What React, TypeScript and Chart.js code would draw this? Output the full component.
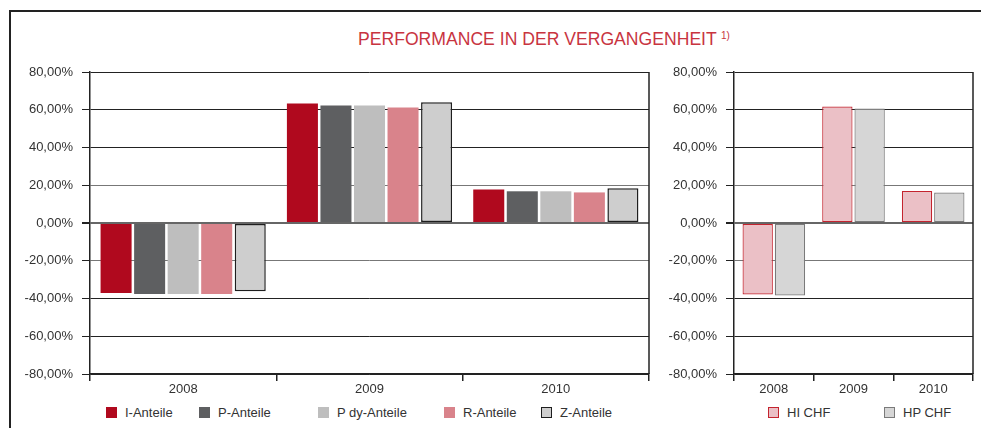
import React, { useEffect, useRef } from 'react';
import { Chart, registerables } from 'chart.js';

Chart.register(...registerables);

// ---- data ----
const years = ['2008', '2009', '2010'];
const iAnteile = [-37.1, 63.3, 17.8];
const pAnteile = [-37.6, 62.3, 16.8];
const pdyAnteile = [-37.6, 62.3, 16.8];
const rAnteile = [-37.6, 61.2, 16.2];
const zAnteile = [-36.2, 64.0, 18.4];
const hiChf = [-37.9, 61.7, 16.9];
const hpChf = [-38.4, 60.7, 16.1];
const leftNames = ['I-Anteile', 'P-Anteile', 'P dy-Anteile', 'R-Anteile', 'Z-Anteile'];
const rightNames = ['HI CHF', 'HP CHF'];
const yMin = -80;
const yMax = 80;
const yStep = 20;
const titleText = 'PERFORMANCE IN DER VERGANGENHEIT';
const footnoteMark = '1)';

// ---- styles ----
const FONT = "'Liberation Sans', Arial, sans-serif";
const leftStyles = [
  { bg: '#b0091e', border: '#b0091e', bw: 0 },
  { bg: '#5e5f61', border: '#5e5f61', bw: 0 },
  { bg: '#bebebe', border: '#bebebe', bw: 0 },
  { bg: '#d9838b', border: '#d9838b', bw: 0 },
  { bg: '#cecece', border: '#1e1e1e', bw: 1.5 },
];
const rightStyles = [
  { bg: '#ebc0c6', border: '#c4242f', bw: 1.2 },
  { bg: '#d6d6d6', border: '#7a7a7a', bw: 1.2 },
];
const leftLegendX = [106, 199, 318, 444, 541];
const rightLegendX = [768, 884];

const fmt = (v: number) => v.toFixed(2).replace('.', ',') + '%';

const rightBorderPlugin = {
  id: 'rightBorder',
  afterDraw(chart: any) {
    const { ctx, chartArea } = chart;
    ctx.save();
    ctx.strokeStyle = '#222';
    ctx.lineWidth = 1.5;
    ctx.beginPath();
    ctx.moveTo(chartArea.right, chartArea.top);
    ctx.lineTo(chartArea.right, chartArea.bottom);
    ctx.stroke();
    ctx.restore();
  },
};

function makeConfig(
  series: number[][],
  names: string[],
  styles: { bg: string; border: string; bw: number }[],
  axisWidth: number,
  rightPad: number,
  catPct: number,
  barPct: number
): any {
  return {
    type: 'bar',
    data: {
      labels: years,
      datasets: series.map((d, i) => ({
        label: names[i],
        data: d,
        backgroundColor: styles[i].bg,
        borderColor: styles[i].border,
        borderWidth: styles[i].bw,
        borderSkipped: false,
        categoryPercentage: catPct,
        barPercentage: barPct,
      })),
    },
    options: {
      responsive: false,
      animation: false,
      devicePixelRatio: 1,
      layout: { padding: { top: 72, left: 0, right: rightPad, bottom: 0 } },
      plugins: { legend: { display: false }, title: { display: false }, tooltip: { enabled: false } },
      scales: {
        x: {
          afterFit: (s: any) => {
            s.height = 26;
          },
          grid: {
            offset: true,
            drawOnChartArea: false,
            drawTicks: true,
            tickLength: 7,
            color: '#222',
            tickColor: '#222',
            lineWidth: 1.5,
          },
          border: { color: '#222', width: 1.5 },
          ticks: { color: '#333', font: { family: FONT, size: 13 }, padding: 1 },
        },
        y: {
          min: yMin,
          max: yMax,
          afterFit: (s: any) => {
            s.width = axisWidth;
          },
          ticks: {
            stepSize: yStep,
            color: '#333',
            font: { family: FONT, size: 13 },
            padding: 9,
            callback: (v: any) => fmt(Number(v)),
          },
          grid: {
            drawTicks: true,
            tickLength: 8,
            tickColor: '#222',
            color: (c: any) => {
              const v = c.tick ? c.tick.value : 1;
              if (v === 0) return '#666';
              if (Math.abs(v) === 20) return '#777';
              return '#222';
            },
            lineWidth: (c: any) => (c.tick && c.tick.value === 0 ? 2 : 1),
          },
          border: { color: '#222', width: 1.5 },
        },
      },
    },
    plugins: [rightBorderPlugin],
  };
}

function Legend({ names, styles, xs }: { names: string[]; styles: any[]; xs: number[] }) {
  return (
    <>
      {names.map((n, i) => (
        <div
          key={n}
          style={{
            position: 'absolute',
            left: xs[i],
            top: 403,
            height: 18,
            display: 'flex',
            alignItems: 'center',
            whiteSpace: 'nowrap',
          }}
        >
          <span
            style={{
              display: 'inline-block',
              width: 11,
              height: 11,
              boxSizing: 'border-box',
              background: styles[i].bg,
              border: styles[i].bw ? `1.5px solid ${styles[i].border}` : 'none',
              marginRight: 8,
            }}
          />
          <span style={{ fontFamily: FONT, fontSize: 13, color: '#333' }}>{n}</span>
        </div>
      ))}
    </>
  );
}

export default function App() {
  const leftRef = useRef<HTMLCanvasElement>(null);
  const rightRef = useRef<HTMLCanvasElement>(null);

  useEffect(() => {
    const left = new Chart(
      leftRef.current as HTMLCanvasElement,
      makeConfig([iAnteile, pAnteile, pdyAnteile, rAnteile, zAnteile], leftNames, leftStyles, 90, 11, 0.9, 0.925)
    );
    const right = new Chart(
      rightRef.current as HTMLCanvasElement,
      makeConfig([hiChf, hpChf], rightNames, rightStyles, 84, 8, 0.81, 0.94)
    );
    return () => {
      left.destroy();
      right.destroy();
    };
  }, []);

  return (
    <div
      style={{
        position: 'fixed',
        left: 0,
        top: 0,
        width: 981,
        height: 428,
        background: '#fff',
        overflow: 'hidden',
      }}
    >
      <div
        style={{
          position: 'absolute',
          left: 9,
          top: 10,
          width: 1100,
          height: 600,
          borderTop: '2px solid #222',
          borderLeft: '2px solid #222',
        }}
      />
      <div
        style={{
          position: 'absolute',
          left: 358,
          top: 30,
          fontFamily: FONT,
          fontSize: 17.6,
          lineHeight: '19px',
          color: '#c8343f',
          whiteSpace: 'nowrap',
        }}
      >
        {titleText}
      </div>
      <div
        style={{
          position: 'absolute',
          left: 721,
          top: 30,
          fontFamily: FONT,
          fontSize: 10,
          lineHeight: '12px',
          color: '#c8343f',
        }}
      >
        {footnoteMark}
      </div>
      <canvas
        ref={leftRef}
        width={660}
        height={400}
        style={{ position: 'absolute', left: 0, top: 0, width: 660, height: 400 }}
      />
      <canvas
        ref={rightRef}
        width={331}
        height={400}
        style={{ position: 'absolute', left: 650, top: 0, width: 331, height: 400 }}
      />
      <Legend names={leftNames} styles={leftStyles} xs={leftLegendX} />
      <Legend names={rightNames} styles={rightStyles} xs={rightLegendX} />
    </div>
  );
}
